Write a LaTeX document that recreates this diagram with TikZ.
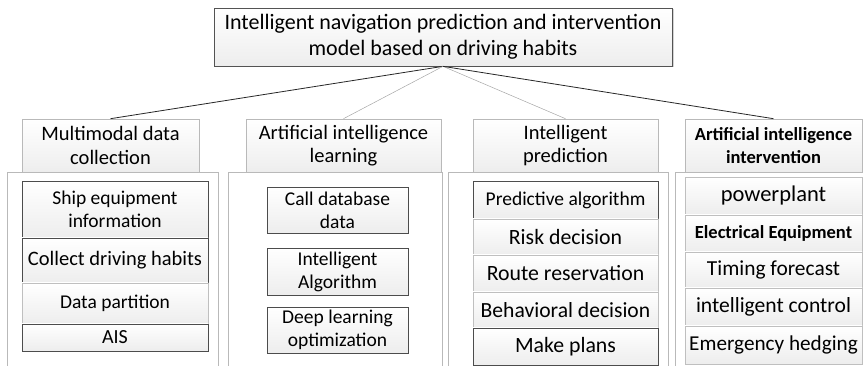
\documentclass[tikz,border=0pt]{standalone}
\usepackage{fontspec}
\setmainfont{Carlito}
\usetikzlibrary{shadows}
\newcommand{\fs}[1]{\fontsize{#1}{#1}\selectfont}
\tikzset{
  base/.style={rectangle, align=center, inner sep=0pt, top color=white, bottom color=gray!14},
  topbox/.style={base, draw=gray!65!black, line width=0.7pt, drop shadow={shadow xshift=1.5pt, shadow yshift=-1.5pt, opacity=0.35}, font=\fontsize{22}{26}\selectfont},
  catbox/.style={base, draw=gray!55, line width=0.6pt, font=\fontsize{20.5}{23.5}\selectfont},
  container/.style={draw=gray!55, line width=0.6pt},
  itemdark/.style={base, draw=gray!60!black, line width=0.6pt},
  itemlight/.style={base, draw=gray!50, line width=0.6pt},
  shad/.style={drop shadow={shadow xshift=1pt, shadow yshift=-1pt, opacity=0.3}},
  outer/.style={draw=black!85, line width=0.8pt},
  inner/.style={draw=gray!70, line width=0.5pt}
}
\begin{document}
\begin{tikzpicture}[x=1pt,y=-1pt]
\useasboundingbox (0,0) rectangle (863,366);
% containers
\draw[container] (7,372) -- (7,172) -- (218,172) -- (218,372);
\draw[container] (228,372) -- (228,172) -- (442,172) -- (442,372);
\draw[container] (448,372) -- (448,172) -- (668,172) -- (668,372);
\draw[container] (675,372) -- (675,172) -- (870,172);
% top
\node[topbox, minimum width=458, minimum height=58] (top) at (443,37) {Intelligent navigation prediction and intervention\\model based on driving habits};
% categories
\node[catbox, minimum width=177, minimum height=53] (c1) at (110.5,145.5) {Multimodal data\\collection};
\node[catbox, minimum width=195, minimum height=53] (c2) at (343.5,145.5) {Artificial intelligence\\learning};
\node[catbox, minimum width=185, minimum height=53] (c3) at (565.5,145.5) {Intelligent\\prediction};
\node[catbox, minimum width=177, minimum height=53, font=\fontsize{18.5}{23.5}\selectfont\bfseries] (c4) at (773.5,145.5) {Artificial intelligence\\intervention};
% connectors
\draw[outer] (top.south) -- (c1.north);
\draw[inner] (top.south) -- (c2.north);
\draw[inner] (top.south) -- (c3.north);
\draw[outer] (top.south) -- (c4.north);
% column 1
\node[itemdark, minimum width=186, minimum height=57, font=\fontsize{19.5}{23.5}\selectfont] (a1) at (115,209.5) {Ship equipment\\information};
\node[itemdark, minimum width=186, minimum height=45, font=\fs{20.5}] (a2) at (115,260.5) {Collect driving habits};
\node[itemlight, minimum width=186, minimum height=41, font=\fs{19.5}] (a3) at (115,303.5) {Data partition};
\node[itemdark, minimum width=186, minimum height=27, font=\fs{20}] (a4) at (115,337.5) {AIS};
% column 2
\node[itemdark, shad, minimum width=141, minimum height=46, font=\fontsize{19.5}{23}\selectfont] (b1) at (337.5,210) {Call database\\data};
\node[itemdark, shad, minimum width=141, minimum height=47, font=\fontsize{19.5}{23}\selectfont] (b2) at (337.5,271.5) {Intelligent\\Algorithm};
\node[itemdark, shad, minimum width=141, minimum height=46, font=\fontsize{19.5}{23}\selectfont] (b3) at (337.5,330) {Deep learning\\optimization};
% column 3
\node[itemdark, minimum width=185, minimum height=38, font=\fs{19.5}] (d1) at (565.5,200) {Predictive algorithm};
\node[itemlight, minimum width=185, minimum height=36, font=\fs{21.8}] (d2) at (565.5,237) {Risk decision};
\node[itemlight, minimum width=185, minimum height=37, font=\fs{21.8}] (d3) at (565.5,273.5) {Route reservation};
\node[itemlight, minimum width=185, minimum height=36, font=\fs{21.6}] (d4) at (565.5,310) {Behavioral decision};
\node[itemdark, minimum width=185, minimum height=37, font=\fs{21.8}] (d5) at (565.5,346.5) {Make plans};
% column 4
\node[itemlight, shad, minimum width=177, minimum height=38, font=\fs{22.5}] (e1) at (773.5,196) {powerplant};
\node[itemlight, shad, minimum width=177, minimum height=37, font=\fs{18.5}\bfseries] (e2) at (773.5,233.5) {Electrical Equipment};
\node[itemlight, shad, minimum width=177, minimum height=36, font=\fs{21.4}] (e3) at (773.5,270) {Timing forecast};
\node[itemlight, shad, minimum width=177, minimum height=38, font=\fs{21.6}] (e4) at (773.5,307) {intelligent control};
\node[itemlight, shad, minimum width=177, minimum height=38, font=\fs{21.2}] (e5) at (773.5,345) {Emergency hedging};
\end{tikzpicture}
\end{document}
